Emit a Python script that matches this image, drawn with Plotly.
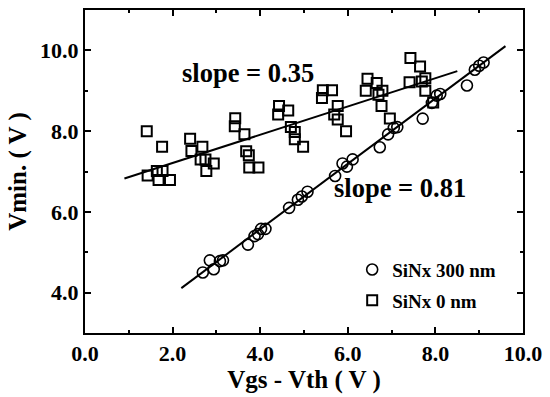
import numpy as np
import plotly.graph_objects as go

# SiNx 300 nm samples: Vgs - Vth vs. Vmin
x300 = [2.69, 2.85, 2.94, 3.08, 3.15, 3.72, 3.87, 3.95, 4.02, 4.12,
        4.66, 4.86, 4.95, 5.08, 5.71, 5.88, 5.98, 6.11, 6.73, 6.92,
        7.05, 7.13, 7.71, 7.92, 8.03, 8.11, 8.72, 8.90, 9.00, 9.10]
y300 = [4.50, 4.80, 4.58, 4.78, 4.80, 5.19, 5.40, 5.45, 5.58, 5.58,
        6.10, 6.30, 6.38, 6.50, 6.89, 7.20, 7.12, 7.30, 7.60, 7.92,
        8.08, 8.10, 8.31, 8.70, 8.88, 8.92, 9.13, 9.52, 9.62, 9.70]

# SiNx 0 nm samples
x0 = [1.41, 1.76, 1.43, 1.64, 1.77, 1.68, 1.94, 2.40, 2.43, 2.68,
      2.64, 2.75, 2.94, 2.77, 3.43, 3.42, 3.64, 3.68, 3.74, 3.75,
      3.96, 4.43, 4.64, 4.41, 4.70, 4.79, 4.79, 4.98, 5.41, 5.43,
      5.64, 5.77, 5.69, 5.77, 5.96, 6.45, 6.66, 6.41, 6.79, 6.70,
      6.77, 6.96, 7.43, 7.65, 7.41, 7.69, 7.77, 7.77, 7.95]
y0 = [8.00, 7.61, 6.90, 7.01, 7.01, 6.79, 6.79, 7.81, 7.51, 7.61,
      7.30, 7.30, 7.20, 7.01, 8.32, 8.12, 7.92, 7.50, 7.40, 7.10,
      7.10, 8.62, 8.51, 8.41, 8.10, 7.98, 7.80, 7.61, 8.82, 9.01,
      9.01, 8.62, 8.41, 8.29, 8.00, 9.30, 9.19, 9.00, 9.00, 8.90,
      8.62, 8.31, 9.81, 9.60, 9.21, 9.23, 9.31, 9.00, 8.71]

# Linear fits (slope, intercept) and the x-span each fit line covers
fit300 = (0.81, 2.33)
span300 = [2.2, 9.6]
fit0 = (0.35, 6.51)
span0 = [0.9, 8.5]

FONT = "Liberation Serif, Times New Roman, serif"

fig = go.Figure()

for (slope, icpt), span in ((fit300, span300), (fit0, span0)):
    xs = np.array(span)
    fig.add_trace(go.Scatter(
        x=xs, y=slope * xs + icpt, mode="lines",
        line=dict(color="black", width=2), showlegend=False, hoverinfo="skip"))

fig.add_trace(go.Scatter(
    x=x300, y=y300, mode="markers", name="<b>SiNx 300 nm</b>",
    legendgroup="a",
    marker=dict(symbol="circle-open", size=11, color="black",
                line=dict(width=1.6, color="black"))))
fig.add_trace(go.Scatter(
    x=x0, y=y0, mode="markers", name="<b>SiNx 0 nm</b>",
    legendgroup="b",
    marker=dict(symbol="square-open", size=10, color="black",
                line=dict(width=2, color="black"))))

fig.add_annotation(x=3.73, y=9.43, text="<b>slope = 0.35</b>", showarrow=False,
                   font=dict(family=FONT, size=26.5, color="black"))
fig.add_annotation(x=7.2, y=6.6, text="<b>slope = 0.81</b>", showarrow=False,
                   font=dict(family=FONT, size=26.5, color="black"))

axis_common = dict(
    showgrid=False, zeroline=False, showline=True, linecolor="black",
    linewidth=2, mirror="ticks", ticks="inside", ticklen=6, tickwidth=2,
    tickcolor="black", tickformat=".1f",
    tickprefix="<b>", ticksuffix="</b>",
    tickfont=dict(family=FONT, size=22, color="black"),
    minor=dict(ticks="inside", ticklen=3, tickwidth=2, tickcolor="black", dtick=1),
)

fig.update_xaxes(range=[0, 10], dtick=2, tick0=0, ticklabelstandoff=0,
                 title=dict(text="<b>Vgs - Vth ( V )</b>", standoff=0,
                            font=dict(family=FONT, size=25, color="black")),
                 **axis_common)
fig.update_yaxes(range=[3, 11], dtick=2, tick0=0,
                 title=dict(text="<b>Vmin. ( V )</b>", standoff=6,
                            font=dict(family=FONT, size=25, color="black")),
                 **axis_common)

fig.update_layout(
    width=550, height=397,
    margin=dict(l=85, r=23, t=8, b=64),
    paper_bgcolor="white", plot_bgcolor="white",
    legend=dict(x=0.61, y=0.255, xanchor="left", yanchor="top",
                bgcolor="rgba(0,0,0,0)", traceorder="grouped",
                tracegroupgap=3, itemwidth=30,
                font=dict(family=FONT, size=19, color="black")),
)

fig.write_html("out.html")
